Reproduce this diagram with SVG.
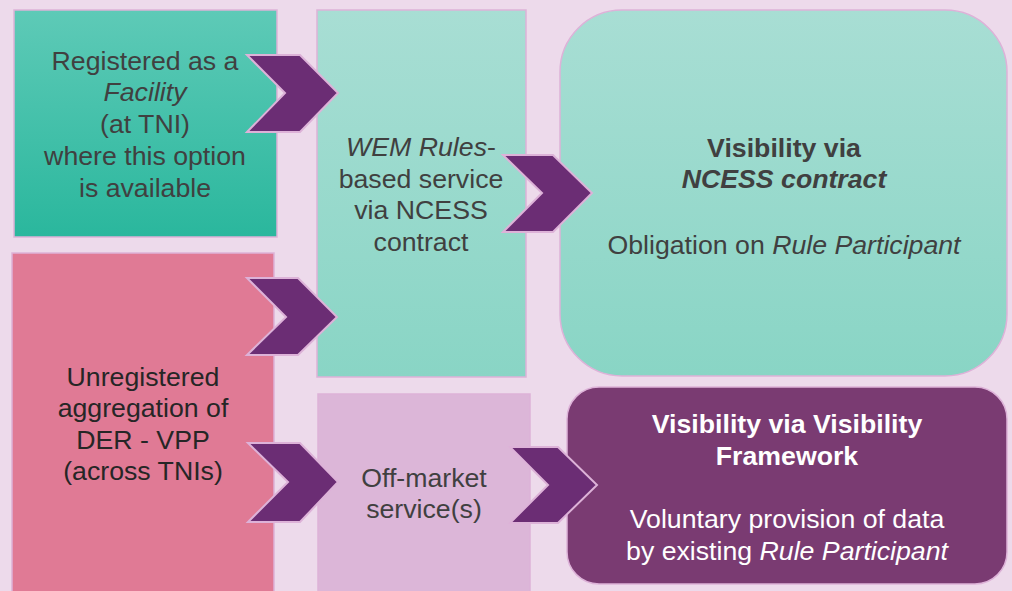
<svg xmlns="http://www.w3.org/2000/svg" width="1012" height="591" viewBox="0 0 1012 591">
<defs>
<linearGradient id="gTeal" x1="0" y1="0" x2="0" y2="1"><stop offset="0" stop-color="#5ECAB7"/><stop offset="1" stop-color="#2AB79D"/></linearGradient>
<linearGradient id="gLight" x1="0" y1="0" x2="0" y2="1"><stop offset="0" stop-color="#A8DED4"/><stop offset="1" stop-color="#89D5C5"/></linearGradient>
<style>
.t{font-family:"Liberation Sans",Arial,sans-serif;font-size:26.7px;fill:#404040;text-anchor:middle}
.w{fill:#FFFFFF}
.b{font-weight:bold}
.i{font-style:italic}
.box{stroke:#DDB2D8;stroke-width:1.5}
.chev{fill:#6B2D74;stroke:#DDB2D8;stroke-width:2;stroke-linejoin:miter}
</style>
</defs>
<rect x="0" y="0" width="1012" height="591" fill="#EDDAEB"/>
<g id="node-facility">
<rect class="box" x="14" y="10" width="263" height="227" fill="url(#gTeal)"/>
<text class="t"><tspan x="145" y="70">Registered as a</tspan><tspan x="145" y="101" class="i">Facility</tspan><tspan x="145" y="133">(at TNI)</tspan><tspan x="145" y="165">where this option</tspan><tspan x="145" y="197">is available</tspan></text>
</g>
<g id="node-unregistered">
<rect class="box" x="12" y="253" width="262" height="345" fill="#E07A95"/>
<text class="t" style="fill:#262626"><tspan x="143" y="386">Unregistered</tspan><tspan x="143" y="417">aggregation of</tspan><tspan x="143" y="449">DER - VPP</tspan><tspan x="143" y="480">(across TNIs)</tspan></text>
</g>
<g id="node-wem">
<rect class="box" x="317" y="10" width="209" height="367" fill="url(#gLight)"/>
<text class="t"><tspan x="421" y="156"><tspan class="i">WEM Rules</tspan>-</tspan><tspan x="421" y="188">based service</tspan><tspan x="421" y="219">via NCESS</tspan><tspan x="421" y="251">contract</tspan></text>
</g>
<g id="node-offmarket">
<rect class="box" x="318" y="394" width="212" height="204" fill="#DCB6D8"/>
<text class="t"><tspan x="424" y="487">Off-market</tspan><tspan x="424" y="518">service(s)</tspan></text>
</g>
<g id="node-ncess">
<rect class="box" x="560" y="10" width="447" height="366" rx="62" ry="62" fill="url(#gLight)"/>
<text class="t"><tspan x="784" y="157" class="b">Visibility via</tspan><tspan x="784" y="188" class="b i">NCESS contract</tspan><tspan x="784" y="254">Obligation on <tspan class="i">Rule Participant</tspan></tspan></text>
</g>
<g id="node-framework">
<rect class="box" x="567" y="387" width="440" height="197" rx="32" ry="32" fill="#7A3B72"/>
<text class="t w"><tspan x="787" y="433" class="b">Visibility via Visibility</tspan><tspan x="787" y="465" class="b">Framework</tspan><tspan x="787" y="528">Voluntary provision of data</tspan><tspan x="787" y="560">by existing <tspan class="i">Rule Participant</tspan></tspan></text>
</g>
<g id="connectors">
<polygon class="chev" points="247,55 300,55 338,93 300,132 247,132 285,93"/>
<polygon class="chev" points="247,278 298,278 337,317 298,355 247,355 286,317"/>
<polygon class="chev" points="503,155 553,155 592,193 553,232 503,232 542,193"/>
<polygon class="chev" points="248,443 300,443 338,482 300,522 248,522 288,482"/>
<polygon class="chev" points="510,447 558,447 597,485 558,523 510,523 548,485"/>
</g>
</svg>
